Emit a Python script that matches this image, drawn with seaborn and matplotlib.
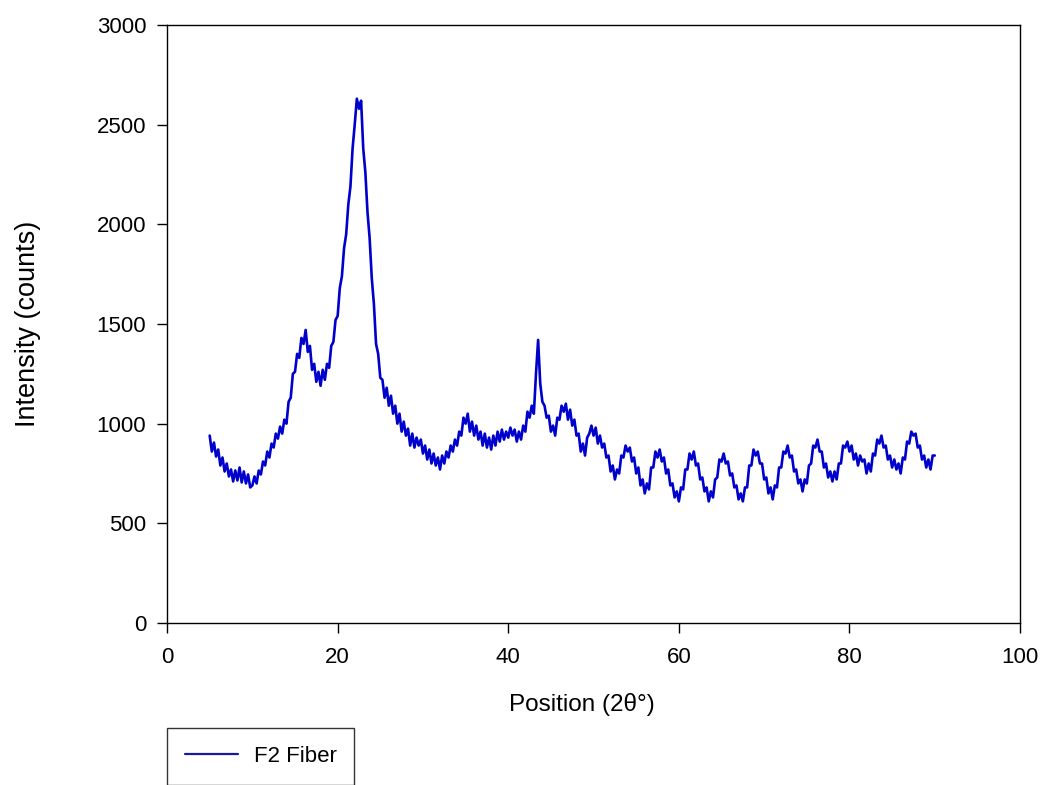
import numpy as np
import pandas as pd
import seaborn as sns
from matplotlib import pyplot as plt

# scan grid of the diffractogram (2theta, step 0.25 deg)
position = np.linspace(5, 90, 341)

# intensity, one row per 5 degrees
intensity = [
    940, 860, 905, 835, 870, 790, 830, 760, 800, 735, 770, 710, 765, 715, 780, 705, 760, 700, 745, 680,
    690, 735, 700, 765, 745, 810, 790, 860, 830, 900, 880, 950, 925, 985, 950, 1020, 1000, 1110, 1130, 1250,
    1260, 1350, 1330, 1430, 1400, 1470, 1360, 1390, 1270, 1300, 1210, 1260, 1190, 1270, 1220, 1300, 1280, 1390, 1410, 1520,
    1540, 1680, 1740, 1880, 1950, 2100, 2190, 2380, 2500, 2630, 2580, 2620, 2380, 2260, 2060, 1930, 1730, 1600, 1400, 1350,
    1230, 1220, 1130, 1180, 1090, 1140, 1050, 1090, 1000, 1050, 960, 1010, 940, 975, 890, 950, 880, 930, 890, 920,
    850, 890, 820, 870, 800, 850, 790, 830, 770, 840, 800, 860, 830, 890, 860, 920, 890, 960, 940, 1030,
    1000, 1050, 960, 1010, 940, 990, 920, 960, 890, 950, 880, 930, 870, 940, 890, 960, 910, 970, 920, 960,
    930, 980, 940, 970, 910, 960, 920, 990, 960, 1060, 1030, 1090, 1050, 1250, 1420, 1200, 1110, 1090, 1030, 1040,
    960, 990, 940, 1030, 1020, 1090, 1060, 1100, 1020, 1070, 990, 1020, 940, 950, 860, 900, 840, 930, 950, 990,
    940, 980, 900, 940, 880, 900, 830, 840, 760, 790, 720, 770, 750, 840, 830, 890, 860, 880, 810, 830,
    750, 780, 690, 720, 650, 700, 670, 780, 780, 860, 830, 870, 810, 830, 750, 770, 690, 700, 630, 660,
    610, 680, 670, 770, 770, 850, 820, 860, 790, 800, 720, 730, 660, 680, 610, 660, 630, 720, 730, 820,
    810, 850, 800, 810, 740, 750, 680, 690, 620, 650, 610, 680, 680, 790, 790, 870, 840, 860, 800, 800,
    720, 730, 650, 680, 620, 690, 680, 780, 780, 860, 850, 890, 830, 840, 760, 770, 700, 720, 660, 720,
    700, 790, 800, 890, 880, 920, 860, 860, 780, 800, 730, 760, 710, 760, 720, 800, 800, 890, 880, 910,
    860, 890, 820, 850, 790, 840, 810, 820, 750, 800, 760, 850, 840, 920, 900, 940, 880, 890, 820, 840,
    780, 820, 770, 800, 750, 830, 820, 910, 900, 960, 940, 950, 880, 890, 820, 840, 780, 820, 770, 840,
    840,
]

x_ticks = [0, 20, 40, 60, 80, 100]
y_ticks = [0, 500, 1000, 1500, 2000, 2500, 3000]
series_name = "F2 Fiber"

df = pd.DataFrame({"pos": position, "counts": intensity})

sns.set_style("white")
plt.rcParams["font.family"] = ["Liberation Sans", "DejaVu Sans"]
plt.rcParams["text.color"] = "black"
plt.rcParams["axes.labelcolor"] = "black"

fig = plt.figure(figsize=(10.44, 7.85), dpi=100)
ax = fig.add_axes([0.16, 0.2064, 0.8171, 0.7618])

sns.lineplot(data=df, x="pos", y="counts", ax=ax, color="#0000CC", linewidth=1.9,
             estimator=None, sort=False, label=series_name)

ax.set_xlim(0, 100)
ax.set_ylim(0, 3000)
ax.set_xticks(x_ticks)
ax.set_yticks(y_ticks)
ax.tick_params(axis="both", direction="out", length=7, width=1, colors="black",
               labelsize=16, left=True, bottom=True, top=False, right=False)
ax.tick_params(axis="y", pad=8)
ax.tick_params(axis="x", pad=10)
for s in ax.spines.values():
    s.set_color("black")
    s.set_linewidth(1)

ax.set_xlabel("Position (2θ°)", fontsize=17.5, labelpad=18)
ax.xaxis.label.set_x(0.486)
ax.set_ylabel("Intensity (counts)", fontsize=19.5, labelpad=40)

ax.get_legend().remove()
leg = fig.legend(loc="upper left", bbox_to_anchor=(167 / 1044, 1 - 728 / 785),
                 bbox_transform=fig.transFigure, fontsize=16, frameon=True, fancybox=False,
                 edgecolor="black", borderpad=0.8, handlelength=2.4, handletextpad=0.7,
                 borderaxespad=0)
leg.get_frame().set_linewidth(1)
leg.get_lines()[0].set_color("#1a1aa0")
leg.get_lines()[0].set_linewidth(1.6)

fig.savefig("out.png", dpi=100)
